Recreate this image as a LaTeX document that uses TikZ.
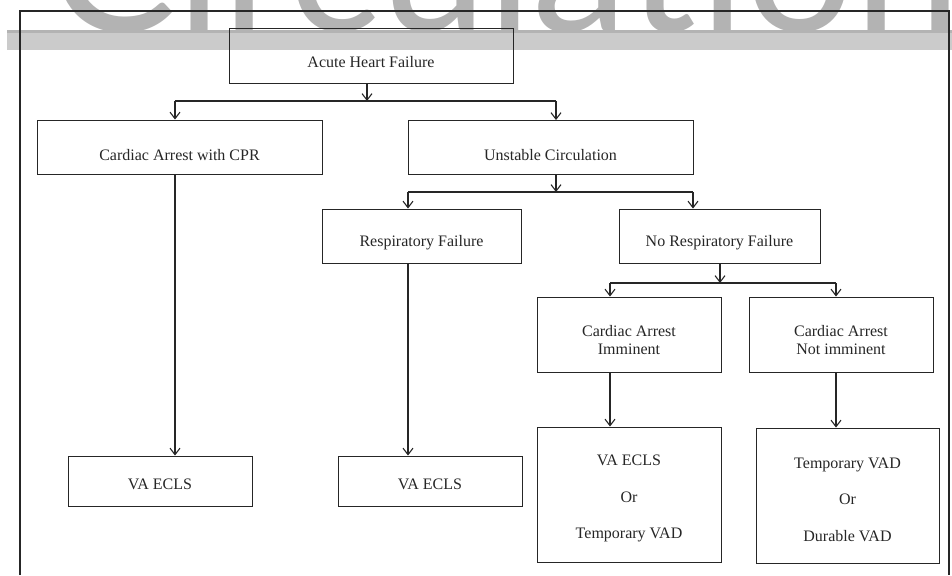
\documentclass[tikz,border=0pt]{standalone}
\usepackage{fontspec}
\setmainfont{Liberation Serif}
\newfontfamily\wmfont{Lato}
\usetikzlibrary{arrows.meta}
\definecolor{wmgray}{HTML}{B3B3B3}
\definecolor{bargray}{HTML}{CBCBCB}
\definecolor{ink}{HTML}{262626}
\tikzset{
  box/.style={draw=ink, line width=0.9pt, inner sep=0pt},
  txt/.style={font=\fontsize{16}{18.5}\selectfont, text=ink, align=center, inner sep=0pt},
  wide/.style={font=\fontsize{16}{36.5}\selectfont, text=ink, align=center, inner sep=0pt},
  conn/.style={draw=ink, line width=1.1pt},
  arr/.style={conn, -{Straight Barb[length=6.5pt,width=10pt,line width=1.1pt]}},
  frameline/.style={draw=ink, line width=1.2pt}
}
\begin{document}
\begin{tikzpicture}[x=1pt,y=-1pt]
\useasboundingbox (0,0) rectangle (952,575);
% watermark and bar
\node[anchor=base west, inner sep=0pt, text=wmgray, font=\fontsize{192}{192}\selectfont\wmfont] (wm) at (48,32) {Circulation};
\fill[bargray] (7,32) rectangle (952,50);
\fill[wmgray] (7,30.5) rectangle (952,33.5);
% frame
\draw[frameline] (20,575) -- (20,11) -- (949,11) -- (949,575);
% boxes
\node[box, minimum width=284pt, minimum height=55pt, label={[txt, yshift=-6.5pt]center:Acute Heart Failure}] (ahf) at (371,55.5) {};
\node[box, minimum width=285pt, minimum height=54pt, label={[txt, yshift=-8.5pt]center:Cardiac Arrest with CPR}] (cpr) at (179.5,147) {};
\node[box, minimum width=285pt, minimum height=54pt, label={[txt, yshift=-8pt]center:Unstable Circulation}] (unst) at (550.5,147.5) {};
\node[box, minimum width=199pt, minimum height=54pt, label={[txt, yshift=-7pt]center:Respiratory Failure}] (resp) at (421.5,236) {};
\node[box, minimum width=201pt, minimum height=54pt, label={[txt, yshift=-7pt]center:No Respiratory Failure}] (noresp) at (719.5,236) {};
\node[box, minimum width=184pt, minimum height=75pt, label={[txt, yshift=-5.5pt]center:Cardiac Arrest\\Imminent}] (cai) at (629,334.5) {};
\node[box, minimum width=184pt, minimum height=75pt, label={[txt, yshift=-5.5pt]center:Cardiac Arrest\\Not imminent}] (can) at (841,334.5) {};
\node[box, minimum width=184pt, minimum height=50pt, label={[txt, yshift=-3pt]center:VA ECLS}] (va1) at (160,481) {};
\node[box, minimum width=184pt, minimum height=50pt, label={[txt, yshift=-3pt]center:VA ECLS}] (va2) at (430,481) {};
\node[box, minimum width=184pt, minimum height=135pt, label={[wide, yshift=-4pt]center:VA ECLS\\Or\\Temporary VAD}] (opt1) at (629,494.5) {};
\node[box, minimum width=183pt, minimum height=135pt, label={[wide, yshift=-4pt]center:Temporary VAD\\Or\\Durable VAD}] (opt2) at (847.5,495.5) {};
% junction coordinates
\coordinate (j1) at (367,101);
\coordinate (j1l) at (175,101);
\coordinate (j1r) at (556,101);
\coordinate (j2) at (556,192);
\coordinate (j2l) at (408,192);
\coordinate (j2r) at (693,192);
\coordinate (j3) at (720,283);
\coordinate (j3l) at (610,283);
\coordinate (j3r) at (836,283);
% connectors
\draw[arr] (ahf.south -| j1) -- (j1);
\draw[conn] (j1l) -- (j1r);
\draw[arr] (j1l) -- (j1l |- cpr.north);
\draw[arr] (j1r) -- (j1r |- unst.north);
\draw[arr] (j1l |- cpr.south) -- (j1l |- va1.north);
\draw[arr] (unst.south -| j2) -- (j2);
\draw[conn] (j2l) -- (j2r);
\draw[arr] (j2l) -- (j2l |- resp.north);
\draw[arr] (j2r) -- (j2r |- noresp.north);
\draw[arr] (j2l |- resp.south) -- (j2l |- va2.north);
\draw[arr] (noresp.south -| j3) -- (j3);
\draw[conn] (j3l) -- (j3r);
\draw[arr] (j3l) -- (j3l |- cai.north);
\draw[arr] (j3r) -- (j3r |- can.north);
\draw[arr] (j3l |- cai.south) -- (j3l |- opt1.north);
\draw[arr] (j3r |- can.south) -- (j3r |- opt2.north);
\end{tikzpicture}
\end{document}
